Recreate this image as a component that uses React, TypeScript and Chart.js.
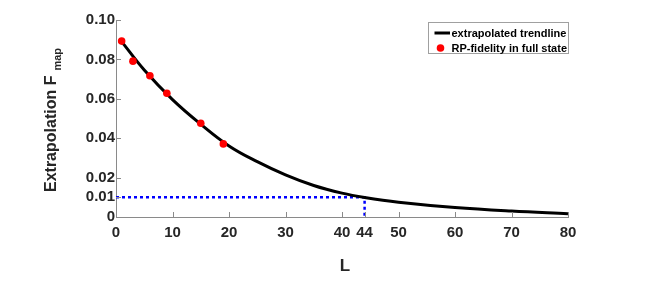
import React, { useEffect, useRef } from 'react';
import { Chart, registerables } from 'chart.js';

Chart.register(...registerables);

// ---- data ----
const trendX = [1, 5, 10, 15, 20, 25, 30, 35, 40, 44, 50, 60, 70, 80];
const trendY = [0.089, 0.0746, 0.0596, 0.0471, 0.0361, 0.0281, 0.0214, 0.016, 0.0121, 0.0099, 0.0075, 0.0048, 0.003, 0.0017];

const fidelityX = [1, 3, 6, 9, 15, 19];
const fidelityY = [0.0893, 0.0791, 0.0717, 0.0628, 0.0476, 0.0371];

const markerX = [0, 44, 44];
const markerY = [0.01, 0.01, 0];

const xTickValues = [0, 10, 20, 30, 40, 44, 50, 60, 70, 80];
const yTickValues = [0, 0.01, 0.02, 0.04, 0.06, 0.08, 0.1];
const yTickLabels = ['0', '0.01', '0.02', '0.04', '0.06', '0.08', '0.10'];

const legendLabels = ['extrapolated trendline', 'RP-fidelity in full state'];
const yTitleMain = 'Extrapolation F';
const yTitleSub = 'map';
const xTitle = 'L';

const FONT = '"Liberation Sans", Arial, Helvetica, sans-serif';
const TICK_COLOR = '#262626';
const AXIS_COLOR = '#8a8a8a';

const decorPlugin = {
  id: 'decor',
  afterDraw(chart: any) {
    const { ctx, chartArea, scales } = chart;
    const xs = scales.x;
    const ys = scales.y;
    ctx.save();
    // inward tick marks
    ctx.strokeStyle = AXIS_COLOR;
    ctx.lineWidth = 1;
    ctx.beginPath();
    xTickValues.forEach((v) => {
      const px = Math.round(xs.getPixelForValue(v)) + 0.5;
      ctx.moveTo(px, chartArea.bottom);
      ctx.lineTo(px, chartArea.bottom - 5);
    });
    yTickValues.forEach((v) => {
      const py = Math.round(ys.getPixelForValue(v)) + 0.5;
      ctx.moveTo(chartArea.left, py);
      ctx.lineTo(chartArea.left + 5, py);
    });
    ctx.stroke();

    // y title with subscript
    ctx.fillStyle = TICK_COLOR;
    ctx.save();
    ctx.translate(56, 192);
    ctx.rotate(-Math.PI / 2);
    ctx.font = `bold 16px ${FONT}`;
    ctx.textAlign = 'left';
    ctx.textBaseline = 'alphabetic';
    ctx.fillText(yTitleMain, 0, 0);
    const w = ctx.measureText(yTitleMain).width;
    ctx.font = `bold 11px ${FONT}`;
    ctx.fillText(yTitleSub, w + 5, 4.5);
    ctx.restore();

    // x title
    ctx.font = `bold 17px ${FONT}`;
    ctx.textAlign = 'center';
    ctx.textBaseline = 'alphabetic';
    ctx.fillText(xTitle, (chartArea.left + chartArea.right) / 2 + 3, 271);

    // legend
    const bx = 428.5, by = 22.5, bw = 140, bh = 31;
    ctx.fillStyle = '#ffffff';
    ctx.fillRect(bx, by, bw, bh);
    ctx.strokeStyle = '#a0a0a0';
    ctx.lineWidth = 1;
    ctx.strokeRect(bx, by, bw, bh);
    ctx.strokeStyle = '#000000';
    ctx.lineWidth = 3;
    ctx.beginPath();
    ctx.moveTo(434.5, 33);
    ctx.lineTo(450, 33);
    ctx.stroke();
    ctx.fillStyle = '#ff0000';
    ctx.beginPath();
    ctx.arc(440.5, 48, 3.8, 0, Math.PI * 2);
    ctx.fill();
    ctx.fillStyle = '#000000';
    ctx.font = `bold 11px ${FONT}`;
    ctx.textAlign = 'left';
    ctx.textBaseline = 'middle';
    ctx.fillText(legendLabels[0], 451.5, 33.5);
    ctx.fillText(legendLabels[1], 451.5, 48.5);
    ctx.restore();
  },
};

export default function App() {
  const canvasRef = useRef<HTMLCanvasElement | null>(null);

  useEffect(() => {
    if (!canvasRef.current) return;
    const chart = new Chart(canvasRef.current, {
      type: 'scatter',
      data: {
        datasets: [
          {
            label: legendLabels[1],
            data: fidelityX.map((x, i) => ({ x, y: fidelityY[i] })),
            backgroundColor: '#ff0000',
            borderColor: '#ff0000',
            pointRadius: 3.8,
            pointBorderWidth: 0,
            showLine: false,
            order: 0,
          },
          {
            label: legendLabels[0],
            data: trendX.map((x, i) => ({ x, y: trendY[i] })),
            borderColor: '#000000',
            borderWidth: 3,
            pointRadius: 0,
            showLine: true,
            tension: 0.4,
            order: 1,
          },
          {
            label: 'marker',
            data: markerX.map((x, i) => ({ x, y: markerY[i] })),
            borderColor: '#0000ff',
            borderWidth: 2.5,
            borderDash: [3, 3],
            pointRadius: 0,
            showLine: true,
            tension: 0,
            order: 2,
          },
        ],
      },
      options: {
        animation: false,
        responsive: true,
        maintainAspectRatio: false,
        layout: { padding: { top: 20, right: 85, left: 0, bottom: 0 } },
        plugins: {
          legend: { display: false },
          tooltip: { enabled: false },
        },
        scales: {
          x: {
            type: 'linear',
            min: 0,
            max: 80,
            afterBuildTicks: (scale: any) => {
              scale.ticks = xTickValues.map((v) => ({ value: v }));
            },
            afterFit: (scale: any) => {
              scale.height = 66;
            },
            grid: { display: false, drawTicks: false },
            border: { display: true, color: AXIS_COLOR, width: 1 },
            ticks: {
              autoSkip: false,
              maxRotation: 0,
              padding: 7,
              color: TICK_COLOR,
              font: { family: FONT, size: 15, weight: 'bold' },
              callback: (v: any) => String(v),
            },
          },
          y: {
            type: 'linear',
            min: 0,
            max: 0.1,
            afterBuildTicks: (scale: any) => {
              scale.ticks = yTickValues.map((v) => ({ value: v }));
            },
            afterFit: (scale: any) => {
              scale.width = 116;
            },
            grid: { display: false, drawTicks: false },
            border: { display: true, color: AXIS_COLOR, width: 1 },
            ticks: {
              autoSkip: false,
              padding: 1,
              color: TICK_COLOR,
              font: { family: FONT, size: 15, weight: 'bold' },
              callback: (v: any) => {
                const i = yTickValues.findIndex((t) => Math.abs(t - v) < 1e-9);
                return i >= 0 ? yTickLabels[i] : '';
              },
            },
          },
        },
      },
      plugins: [decorPlugin],
    });
    return () => chart.destroy();
  }, []);

  return (
    <div style={{ position: 'fixed', left: 0, top: 0, width: 653, height: 283, background: '#fff' }}>
      <canvas ref={canvasRef} />
    </div>
  );
}
